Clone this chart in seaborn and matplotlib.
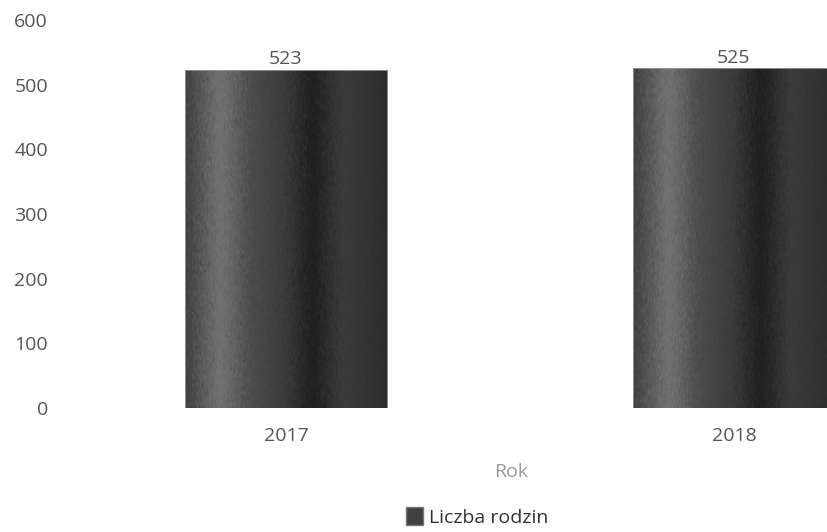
import numpy as np
import pandas as pd
import matplotlib
matplotlib.use('Agg')
import matplotlib.pyplot as plt
import seaborn as sns
from matplotlib.colors import LinearSegmentedColormap
from matplotlib.patches import Patch

years = ['2017', '2018']
families = [523, 525]
series_name = 'Liczba rodzin'
yticks = [0, 100, 200, 300, 400, 500, 600]

df = pd.DataFrame({'Rok': years, series_name: families})

sns.set_style('white')
plt.rcParams['font.family'] = ['Open Sans', 'DejaVu Sans']

# cylinder-like grey shading across each bar
shade = LinearSegmentedColormap.from_list('shade', [
    (0.00, '#404040'), (0.17, '#747474'), (0.32, '#4c4c4c'),
    (0.50, '#3a3a3a'), (0.63, '#1e1e1e'), (0.78, '#3c3c3c'),
    (1.00, '#2c2c2c')])

fig = plt.figure(figsize=(8.28, 5.32), dpi=100)
left = 62 / 828
ax = fig.add_axes([left, 124 / 532, 1 - left, 388 / 532])

sns.barplot(data=df, x='Rok', y=series_name, ax=ax, color='#3a3a3a',
            width=0.453, edgecolor='#999999', linewidth=0.6)

rng = np.random.default_rng(3)
for bar in ax.patches:
    x0, y0 = bar.get_x(), bar.get_y()
    w, h = bar.get_width(), bar.get_height()
    grad = np.tile(np.linspace(0, 1, 256), (120, 1))
    grad = np.clip(grad + rng.normal(0, 0.02, grad.shape), 0, 1)
    im = ax.imshow(grad, cmap=shade, extent=[x0, x0 + w, y0, y0 + h],
                   aspect='auto', zorder=bar.get_zorder() + 0.1,
                   interpolation='bilinear')
    im.set_clip_path(bar)
    bar.set_facecolor('none')
    bar.set_zorder(bar.get_zorder() + 0.2)

for i, v in enumerate(families):
    ax.text(i, v + 2, str(v), ha='center', va='bottom', fontsize=14,
            color='#555555')

ax.set_xlim(-0.5, -0.5 + (828 - 62) / 448)
ax.set_ylim(0, 600)
ax.set_yticks(yticks)
ax.tick_params(axis='both', length=0, labelsize=14, labelcolor='#555555')
ax.tick_params(axis='y', pad=10)
ax.tick_params(axis='x', pad=14)
ax.set_xlabel('')
ax.set_ylabel('')
sns.despine(ax=ax, left=True, bottom=True)

fig.text(511 / 828, 1 - 472 / 532, 'Rok', ha='center', va='center',
         fontsize=14, color='#999999')
fig.legend(handles=[Patch(facecolor='#404040', edgecolor='#777777',
                          label=series_name)],
           loc='center', bbox_to_anchor=(477 / 828, 1 - 517 / 532),
           frameon=False, fontsize=14, handlelength=0.9, handleheight=1.0,
           handletextpad=0.3, labelcolor='#333333')

fig.savefig('out.png', dpi=100)
